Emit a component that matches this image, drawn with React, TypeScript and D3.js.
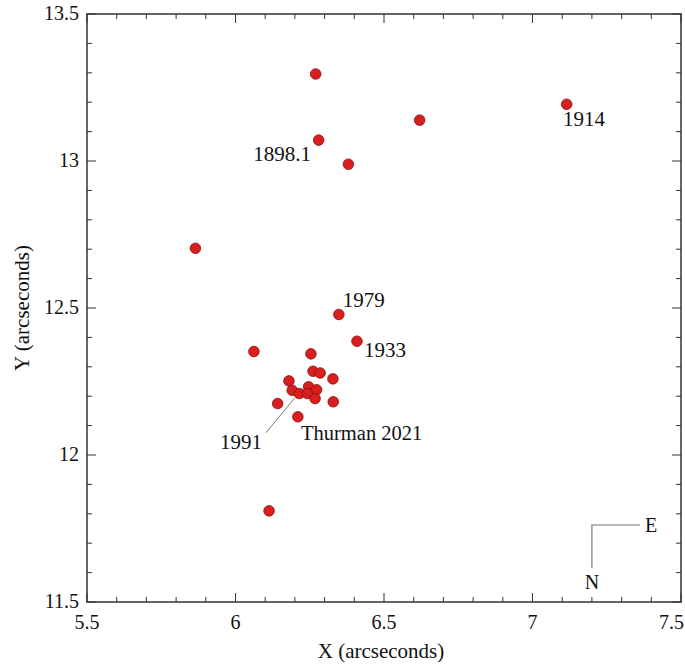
import React from "react";
import * as d3 from "d3";

const W = 685, H = 669;
const xDomain = [5.5, 7.5];
const yDomain = [11.5, 13.5];
const xMajor = [5.5, 6, 6.5, 7, 7.5];
const yMajor = [11.5, 12, 12.5, 13, 13.5];
const xLabels = ["5.5", "6", "6.5", "7", "7.5"];
const yLabels = ["11.5", "12", "12.5", "13", "13.5"];

const xs = [6.27, 6.28, 6.38, 6.62, 7.115, 5.865, 6.348, 6.409, 6.062, 6.254, 6.261, 6.285, 6.328, 6.18, 6.191, 6.215, 6.246, 6.273, 6.242, 6.268, 6.142, 6.329, 6.21, 6.113];
const ys = [13.296, 13.071, 12.989, 13.139, 13.193, 12.703, 12.478, 12.387, 12.352, 12.344, 12.285, 12.279, 12.259, 12.252, 12.22, 12.209, 12.232, 12.222, 12.209, 12.192, 12.175, 12.181, 12.13, 11.81];

const labelTexts = ["1898.1", "1914", "1979", "1933"];
const labelX = [6.254, 7.103, 6.361, 6.433];
const labelY = [12.999, 13.118, 12.505, 12.335];
const labelAnchor = ["end", "start", "start", "start"];

export default function App() {
  const m = { l: 87, r: 681, t: 14, b: 602 };
  const x = d3.scaleLinear().domain(xDomain).range([m.l, m.r]);
  const y = d3.scaleLinear().domain(yDomain).range([m.b, m.t]);
  const xMinor = d3.range(5.5, 7.5001, 0.1).map((v) => +v.toFixed(2));
  const yMinor = d3.range(11.5, 13.5001, 0.1).map((v) => +v.toFixed(2));
  const isMajor = (v: number) => Math.abs(v * 2 - Math.round(v * 2)) < 1e-6;
  const ts = { fontFamily: "Liberation Serif, Tinos, DejaVu Serif, serif" };
  const axisColor = "#333";
  return (
    <svg width={W} height={H} style={{ position: "absolute", left: 0, top: 0, background: "#fff" }}>
      <rect x={m.l} y={m.t} width={m.r - m.l} height={m.b - m.t} fill="none" stroke={axisColor} strokeWidth={1.5} />
      {xMinor.map((v, i) => {
        const L = isMajor(v) ? 9 : 5;
        return (
          <g key={"xt" + i} stroke={axisColor} strokeWidth={1}>
            <line x1={x(v)} x2={x(v)} y1={m.b} y2={m.b - L} />
            <line x1={x(v)} x2={x(v)} y1={m.t} y2={m.t + L} />
          </g>
        );
      })}
      {yMinor.map((v, i) => {
        const L = isMajor(v) ? 9 : 5;
        return (
          <g key={"yt" + i} stroke={axisColor} strokeWidth={1}>
            <line x1={m.l} x2={m.l + L} y1={y(v)} y2={y(v)} />
            <line x1={m.r} x2={m.r - L} y1={y(v)} y2={y(v)} />
          </g>
        );
      })}
      {xMajor.map((v, i) => (
        <text key={"xl" + i} style={ts} x={i === xMajor.length - 1 ? 684 : x(v)} y={629} textAnchor={i === xMajor.length - 1 ? "end" : "middle"} fontSize={20} fill="#111">{xLabels[i]}</text>
      ))}
      {yMajor.map((v, i) => (
        <text key={"yl" + i} style={ts} x={79} y={y(v) + 6} textAnchor="end" fontSize={20} fill="#111">{yLabels[i]}</text>
      ))}
      <text style={ts} x={381} y={658} textAnchor="middle" fontSize={21} fill="#111">X (arcseconds)</text>
      <text style={ts} transform={`translate(29,${(m.t + m.b) / 2}) rotate(-90)`} textAnchor="middle" fontSize={21} fill="#111">Y (arcseconds)</text>

      <line x1={x(6.103)} y1={y(12.076)} x2={x(6.2)} y2={y(12.195)} stroke="#777" strokeWidth={1} />
      {xs.map((v, i) => (
        <circle key={"p" + i} cx={x(v)} cy={y(ys[i])} r={5.3} fill="#d81e1e" stroke="#8a1010" strokeWidth={0.8} />
      ))}
      {labelTexts.map((t, i) => (
        <text key={"lb" + i} style={ts} x={x(labelX[i])} y={y(labelY[i])} textAnchor={labelAnchor[i] as any} fontSize={21} fill="#111">{t}</text>
      ))}
      <text style={ts} x={262} y={449} textAnchor="end" fontSize={21} fill="#111">1991</text>
      <text style={ts} x={301} y={440} textAnchor="start" fontSize={20.5} fill="#111">Thurman 2021</text>

      <polyline points={`${x(7.2)},568 ${x(7.2)},525 640,525`} fill="none" stroke="#777" strokeWidth={1.2} />
      <text style={ts} x={651} y={532} textAnchor="middle" fontSize={20} fill="#111">E</text>
      <text style={ts} x={x(7.2)} y={589} textAnchor="middle" fontSize={20} fill="#111">N</text>
    </svg>
  );
}
